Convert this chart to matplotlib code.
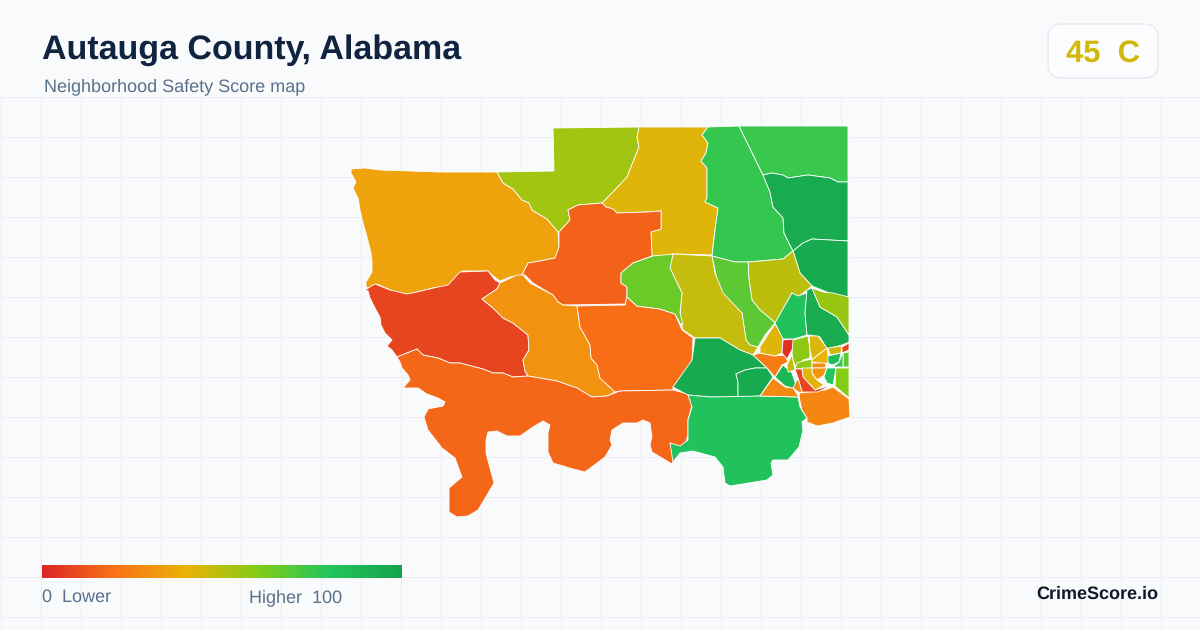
import numpy as np
import matplotlib
matplotlib.use("Agg")
import matplotlib.pyplot as plt
from matplotlib.colors import LinearSegmentedColormap
from matplotlib.patches import FancyBboxPatch, Polygon

plt.rcParams['font.family'] = ['Liberation Sans', 'DejaVu Sans']
plt.rcParams['text.hinting'] = 'no_hinting'
plt.rcParams['text.hinting_factor'] = 1

# chart text
title = "Autauga County, Alabama"
subtitle = "Neighborhood Safety Score map"
overall_score = "45  C"
legend_low = "0  Lower"
legend_high = "Higher  100"
brand = "CrimeScore.io"

# score colour ramp
ramp_stops = [0, 0.2, 0.4, 0.6, 0.8, 1]
ramp_colors = ["#dc2626", "#f97316", "#eab308", "#84cc16", "#22c55e", "#16a34a"]

# tract scores, same order as tract_outlines
tract_scores = [35, 54, 42, 16, 8, 30, 19, 17, 76, 75, 95, 96, 49, 68, 47, 65, 96, 96, 82, 26,
                27, 88, 23, 42, 3, 82, 94, 56, 58, 43, 47, 58, 40, 28, 45, 8, 85, 68, 75, 30,
                42, 8, 80, 60, 27]

# tract outlines (map units)
tract_outlines = [
    [(351,169),(365,168),(380,170),(410,171),(440,172),(497,172),(503,183),(513,189),(522,200),(529,203),(532,210),(547,219),(558,232),(559,247),(555,258),(540,261),(528,263),(522,275),(510,277),(500,281),(492,275),(488,271),(462,271),(448,286),(433,288),(417,292),(408,294),(395,292),(377,284),(373,289),(366,287),(366,282),(372,272),(372,262),(371,253),(367,237),(363,223),(360,210),(358,198),(353,188),(356,182),(351,173)],
    [(553,128),(639,127),(637,137),(639,147),(633,162),(627,177),(613,192),(602,203),(578,205),(568,210),(570,220),(559,232),(558,232),(547,219),(532,210),(529,203),(522,200),(513,189),(503,183),(497,172),(554,171)],
    [(639,127),(708,127),(702,135),(708,143),(706,153),(701,161),(707,168),(707,198),(705,202),(718,208),(715,230),(712,255),(673,254),(663,256),(652,256),(651,232),(661,229),(661,211),(647,212),(617,213),(613,209),(606,207),(602,203),(613,192),(627,177),(633,162),(639,147),(637,137)],
    [(602,203),(606,207),(613,209),(617,213),(647,212),(661,211),(661,229),(651,232),(652,256),(633,263),(621,273),(621,283),(627,287),(627,297),(625,304),(563,305),(558,302),(553,295),(533,283),(525,275),(522,275),(528,263),(540,261),(555,258),(559,247),(559,232),(570,220),(568,210),(578,205)],
    [(365,290),(375,284),(390,290),(407,294),(417,292),(438,287),(448,285),(460,272),(488,271),(495,280),(500,283),(497,289),(482,299),(493,308),(503,318),(513,323),(528,335),(529,350),(523,360),(525,371),(528,376),(513,377),(503,373),(493,373),(483,369),(460,363),(450,363),(438,358),(423,355),(417,349),(397,357),(392,350),(387,346),(392,340),(385,333),(381,325),(380,317),(375,308),(370,298),(368,291)],
    [(500,283),(517,275),(523,275),(530,283),(553,295),(558,302),(563,305),(577,306),(580,327),(590,345),(591,358),(597,365),(600,378),(615,392),(607,396),(592,397),(577,388),(557,381),(528,376),(525,371),(523,360),(529,350),(528,335),(513,323),(503,318),(493,308),(482,299),(497,289)],
    [(577,306),(625,305),(627,297),(637,306),(660,309),(675,314),(682,330),(693,338),(692,363),(673,387),(673,390),(620,391),(615,392),(600,378),(597,365),(591,358),(590,345),(580,327)],
    [(397,357),(417,349),(423,355),(438,358),(450,363),(460,363),(483,369),(493,373),(503,373),(513,377),(528,376),(557,381),(577,388),(592,397),(607,396),(620,391),(673,390),(688,394),(692,405),(688,420),(688,435),(685,445),(677,447),(670,443),(675,458),(672,464),(662,458),(652,452),(650,445),(652,437),(650,423),(643,420),(637,423),(623,423),(612,430),(610,440),(612,445),(605,457),(585,472),(573,469),(553,463),(548,452),(548,433),(550,425),(543,421),(533,427),(520,436),(507,436),(497,431),(488,432),(486,440),(486,453),(494,483),(487,495),(478,510),(468,516),(457,517),(449,512),(449,488),(462,477),(455,458),(442,448),(428,430),(424,417),(428,409),(443,406),(445,402),(438,398),(427,394),(418,388),(403,388),(410,380),(408,375),(402,368),(400,362)],
    [(708,127),(739,126),(763,175),(770,192),(773,207),(783,218),(784,233),(793,251),(783,259),(748,262),(735,262),(712,256),(715,230),(718,208),(705,202),(707,198),(707,168),(701,161),(706,153),(708,143),(702,135)],
    [(739,126),(848,126),(848,182),(838,182),(830,178),(808,175),(788,178),(783,175),(772,173),(763,175)],
    [(763,175),(772,173),(783,175),(788,178),(808,175),(830,178),(838,182),(848,182),(848,241),(812,239),(803,243),(793,251),(784,233),(783,218),(773,207),(770,192)],
    [(793,251),(803,243),(812,239),(848,241),(848,297),(838,296),(827,292),(812,286),(800,273)],
    [(748,262),(783,259),(793,251),(800,273),(812,286),(807,290),(798,297),(792,293),(775,323),(772,320),(760,310),(752,300),(749,280)],
    [(712,256),(735,262),(748,262),(749,280),(752,300),(760,310),(772,320),(775,323),(765,335),(758,347),(750,345),(746,340),(742,313),(723,297),(717,280)],
    [(673,254),(712,256),(715,273),(723,293),(742,313),(746,340),(750,345),(758,347),(753,355),(740,350),(720,338),(695,338),(683,330),(680,320),(681,303),(682,293),(670,268)],
    [(673,254),(653,256),(633,263),(621,273),(621,283),(627,287),(627,297),(637,306),(660,309),(675,314),(680,323),(683,325),(680,313),(682,293),(670,268)],
    [(695,338),(720,338),(740,350),(753,355),(767,368),(755,368),(745,370),(736,374),(738,382),(738,397),(710,397),(688,395),(673,387),(692,360)],
    [(738,397),(760,396),(773,377),(767,368),(755,368),(745,370),(736,374),(738,382)],
    [(688,395),(710,397),(760,396),(798,397),(800,407),(807,418),(802,422),(803,430),(799,447),(788,460),(782,460),(773,460),(771,463),(773,475),(767,480),(730,486),(725,483),(723,467),(715,457),(693,451),(680,453),(673,462),(670,443),(680,446),(688,440),(688,420),(692,407)],
    [(800,393),(825,390),(833,387),(849,399),(850,417),(833,423),(817,426),(807,422),(807,418),(802,410),(799,397)],
    [(760,396),(773,378),(785,387),(793,388),(799,397)],
    [(775,377),(783,365),(792,373),(797,388),(792,388),(785,386)],
    [(753,355),(760,353),(775,356),(785,355),(788,362),(782,365),(775,377),(767,368)],
    [(775,324),(783,337),(782,353),(775,356),(760,353),(760,347)],
    [(783,340),(794,339),(793,348),(787,359),(782,353)],
    [(775,323),(792,293),(798,296),(807,293),(805,313),(807,335),(794,339),(783,339)],
    [(807,290),(812,288),(820,307),(837,317),(849,335),(849,342),(842,345),(827,349),(820,337),(810,335),(807,335),(805,313)],
    [(812,288),(823,292),(833,293),(849,297),(849,335),(837,317),(820,307)],
    [(793,340),(808,336),(810,350),(810,358),(803,360),(796,368),(793,360),(792,353)],
    [(809,336),(818,336),(823,343),(827,348),(818,355),(812,360),(810,350)],
    [(787,365),(792,355),(793,360),(795,370),(788,372)],
    [(795,369),(797,363),(803,361),(812,359),(812,368)],
    [(818,355),(827,348),(829,362),(825,364),(812,362),(812,360)],
    [(812,363),(825,363),(826,368),(812,368)],
    [(828,348),(842,346),(841,353),(830,355)],
    [(842,347),(849,343),(849,350),(842,353)],
    [(828,356),(841,353),(839,362),(832,365),(828,363)],
    [(843,353),(849,352),(849,367),(843,367)],
    [(839,362),(843,353),(843,367),(833,367)],
    [(812,368),(827,368),(824,375),(817,380),(812,373)],
    [(802,368),(812,368),(812,373),(817,380),(824,385),(815,390),(803,377)],
    [(795,369),(802,369),(803,377),(815,390),(832,385),(818,392),(802,392),(798,378)],
    [(827,368),(836,368),(833,385),(827,383),(824,377)],
    [(836,368),(849,368),(849,398),(835,386)],
    [(793,388),(798,378),(802,392),(800,393)],
]

# background grid lines
grid_x = np.arange(1, 1200, 40)
grid_y = np.arange(97, 630, 40)

score_cmap = LinearSegmentedColormap.from_list("score", list(zip(ramp_stops, ramp_colors)))

fig = plt.figure(figsize=(12, 6.3), dpi=100, facecolor="#f8fafc")
ax = fig.add_axes([0, 0, 1, 1])
ax.set_facecolor("#f8fafc")

for x in grid_x:
    ax.plot([x, x], [97, 630], color="#e9eff4", lw=0.75, zorder=1)
for y in grid_y:
    ax.plot([0, 1200], [y, y], color="#e9eff4", lw=0.75, zorder=1)

for outline, score in zip(tract_outlines, tract_scores):
    ax.add_patch(Polygon(outline, closed=True, facecolor=score_cmap(score / 100),
                         edgecolor="white", lw=0.6, joinstyle="round", zorder=2))

# headline
ax.text(42, 59, title, fontsize=24.25, fontweight="bold", color="#10243f", va="baseline", ha="left")
ax.text(44, 91, subtitle, fontsize=12.9, color="#5a7089", va="baseline", ha="left")

# score badge
ax.add_patch(FancyBboxPatch((1062, 38), 82, 26, boxstyle="round,pad=14,rounding_size=14",
                            facecolor="#fcfdfe", edgecolor="#dfe5ec", lw=0.8, zorder=3))
ax.text(1103, 62, overall_score, fontsize=22, fontweight="bold", color=score_cmap(0.45),
        va="baseline", ha="center", zorder=4)

# colour legend
gradient = np.linspace(0, 1, 360).reshape(1, -1)
ax.imshow(gradient, cmap=score_cmap, extent=(42, 402, 578, 565), aspect="auto", zorder=3)
ax.text(42, 602, legend_low, fontsize=13, color="#5a7089", va="baseline", ha="left")
ax.text(249, 602, legend_high, fontsize=13, color="#5a7089", va="baseline", ha="left")

ax.text(1158, 599, brand, fontsize=13, fontweight="bold", color="#0f172a", va="baseline", ha="right")

ax.set_xlim(0, 1200)
ax.set_ylim(630, 0)
ax.axis("off")

fig.savefig("out.png", dpi=100, facecolor=fig.get_facecolor())
